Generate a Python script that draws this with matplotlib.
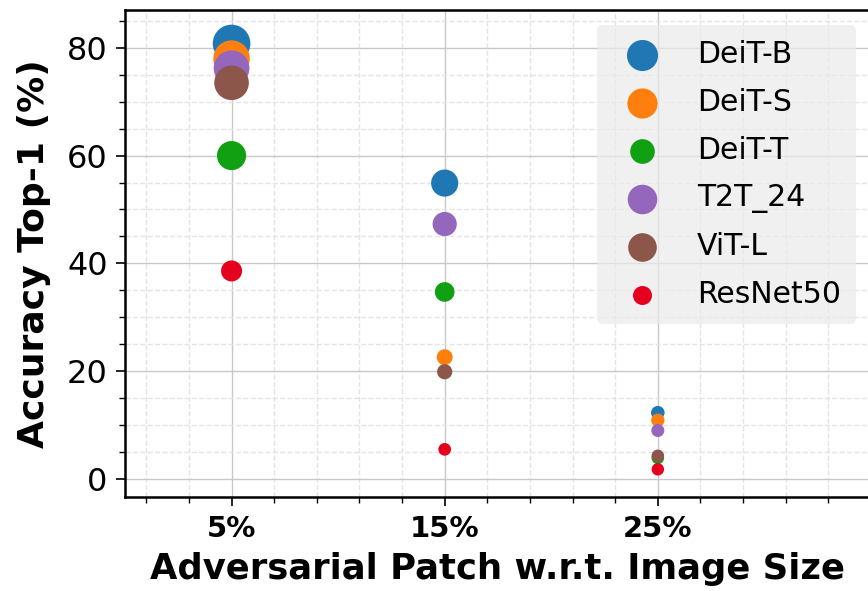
import numpy as np
import matplotlib
matplotlib.use("Agg")
import matplotlib.pyplot as plt
from matplotlib.ticker import AutoMinorLocator

# patch size (% of image) and top-1 accuracy per model
patch_sizes = [5, 15, 25]
patch_labels = ["5%", "15%", "25%"]

models = ["DeiT-B", "DeiT-S", "DeiT-T", "T2T_24", "ViT-L", "ResNet50"]
acc_deit_b = [80.8, 54.9, 12.3]
acc_deit_s = [78.0, 22.6, 10.9]
acc_deit_t = [60.0, 34.7, 3.9]
acc_t2t_24 = [76.2, 47.3, 9.0]
acc_vit_l = [73.5, 19.9, 4.3]
acc_resnet50 = [38.6, 5.5, 1.8]

colors = ["#1f77b4", "#ff7f0e", "#11a011", "#9467bd", "#8c564b", "#e5001e"]

fig = plt.figure(figsize=(8.68, 5.91), dpi=100)
ax = fig.add_axes([0.144, 0.1585, 0.8594, 0.8245])

all_acc = [acc_deit_b, acc_deit_s, acc_deit_t, acc_t2t_24, acc_vit_l, acc_resnet50]
for name, acc, c in zip(models, all_acc, colors):
    acc = np.array(acc)
    # marker area grows with accuracy
    ax.scatter(patch_sizes, acc, s=80 + acc ** 2 / 10, color=c, linewidths=0,
               label=name, zorder=3)

ax.set_xlim(0, 35)
ax.set_ylim(-3.4, 87)
ax.set_xticks(patch_sizes)
ax.set_xticklabels(patch_labels, fontsize=21, fontweight="bold")
ax.set_yticks([0, 20, 40, 60, 80])
ax.tick_params(axis="y", labelsize=23, pad=6)
ax.tick_params(axis="x", pad=6)
ax.xaxis.set_minor_locator(AutoMinorLocator(5))
ax.yaxis.set_minor_locator(AutoMinorLocator(4))
ax.tick_params(which="major", length=6.5, width=1.2)
ax.tick_params(which="minor", length=4, width=1.0)

ax.grid(which="major", color="#c8c8c8", linestyle="-", linewidth=1.0)
ax.grid(which="minor", color="#e4e4e4", linestyle="--", linewidth=1.0)
ax.set_axisbelow(True)
for sp in ax.spines.values():
    sp.set_linewidth(1.8)

ax.set_xlabel("Adversarial Patch w.r.t. Image Size", fontsize=25.5, fontweight="bold",
              labelpad=7)
ax.set_ylabel("Accuracy Top-1 (%)", fontsize=26, fontweight="bold", labelpad=11)

leg = ax.legend(loc="upper right", fontsize=21.5, frameon=True, facecolor="#ebebeb",
                edgecolor="none", framealpha=0.7, labelspacing=0.63,
                handletextpad=0.85, borderpad=0.5, borderaxespad=0.5,
                markerscale=1.1)

fig.savefig("out.png", dpi=100)
